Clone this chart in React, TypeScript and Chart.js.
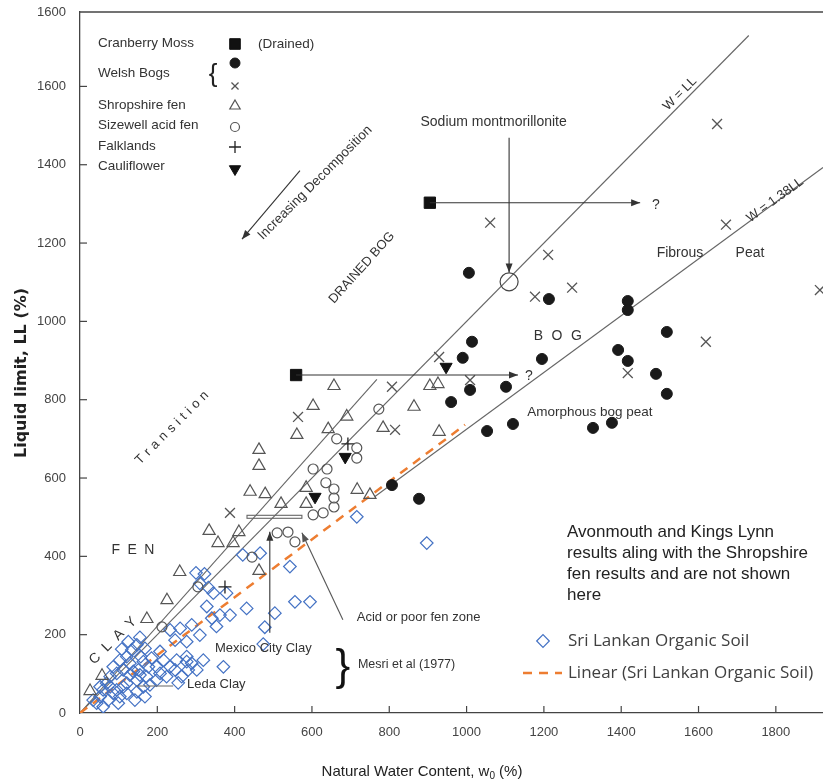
import React, { useEffect, useRef } from 'react';
import { Chart, registerables } from 'chart.js';
import { drawPoint } from 'chart.js/helpers';

Chart.register(...registerables);

// ---------- axes ----------
const X_MAX = 1922;
const Y_MAX = 1790;
const X_TICKS = [0, 200, 400, 600, 800, 1000, 1200, 1400, 1600, 1800];
const Y_TICKS = [0, 200, 400, 600, 800, 1000, 1200, 1400, 1600];
const Y_TOP_LABEL = '1600';

// ---------- data: [natural water content w0 %, liquid limit LL %] ----------
const cranberryMoss = [[905, 1303], [559, 863]];
const welshBogsCircle = [
  [1006, 1124], [1213, 1057], [1014, 948], [990, 907], [1195, 904], [1009, 825], [1102, 833],
  [960, 794], [1053, 720], [1120, 738], [1327, 728], [1376, 741], [807, 582], [877, 547],
  [1417, 1052], [1417, 1029], [1518, 973], [1392, 927], [1417, 899], [1490, 866], [1518, 815],
];
const welshBogsCross = [
  [1061, 1252], [1211, 1170], [1273, 1086], [1177, 1063], [929, 909], [1009, 850], [807, 833],
  [815, 723], [1671, 1247], [1619, 948], [1417, 868], [1914, 1080], [1648, 1504], [564, 756], [388, 511],
];
const shropshireFen = [
  [657, 835], [905, 835], [926, 840], [603, 784], [690, 757], [864, 782], [561, 710], [642, 725],
  [784, 728], [929, 718], [463, 672], [463, 631], [440, 565], [479, 559], [520, 534], [585, 575],
  [585, 534], [717, 570], [750, 557], [334, 465], [357, 434], [396, 434], [411, 462], [258, 360],
  [463, 363], [225, 288], [173, 240], [26, 56], [57, 95],
];
const sizewellAcidFen = [
  [773, 776], [664, 700], [716, 677], [716, 651], [603, 623], [639, 623], [636, 588], [657, 572],
  [657, 549], [657, 526], [603, 506], [629, 511], [510, 460], [538, 462], [556, 437], [445, 398],
  [305, 322], [212, 220],
];
const falklands = [[693, 687], [375, 322]];
const cauliflower = [[947, 884], [686, 654], [608, 552]];
const sodiumMontmorillonite = [[1110, 1101]];
const sriLankanOrganicSoil = [
  [125, 182], [155, 193], [147, 174], [108, 163], [134, 161], [168, 165], [157, 144], [121, 144],
  [103, 135], [86, 118], [129, 127], [164, 131], [185, 140], [198, 118], [207, 101], [233, 118],
  [250, 135], [276, 144], [289, 127], [246, 110], [224, 93], [263, 93], [280, 110], [302, 110],
  [319, 135], [289, 225], [259, 216], [233, 212], [246, 186], [276, 182], [310, 199], [207, 157],
  [216, 135], [95, 101], [78, 93], [69, 76], [60, 59], [52, 42], [95, 59], [121, 76], [147, 84],
  [172, 93], [121, 50], [147, 54], [73, 33], [103, 42], [164, 67], [181, 72], [198, 84], [151, 110],
  [177, 118], [52, 67], [99, 25], [142, 33], [168, 42], [362, 250], [353, 221], [341, 242],
  [328, 272], [388, 250], [371, 118], [78, 67], [86, 50], [112, 67], [129, 97], [112, 110],
  [138, 106], [155, 97], [43, 25], [34, 33], [60, 16],
  [466, 408], [421, 404], [543, 374], [300, 358], [322, 355], [332, 320], [310, 331], [345, 306],
  [379, 306], [556, 284], [595, 284], [431, 267], [504, 255], [478, 219], [474, 176], [276, 131],
  [254, 77], [716, 501], [897, 434],
];
// reference lines and trend line (end points)
const lineWequalsLL = [[0, 0], [1730, 1730]];
const lineTransition = [[0, 0], [768, 852]];
const lineW138LL = [[763, 553], [1922, 1393]];
const trendSriLankan = [[0, 0], [996, 736]];

const toXY = (arr: number[][]) => arr.map(([x, y]) => ({ x, y }));

const SANS = "'Liberation Sans', Arial, sans-serif";
const LEG = "'Open Sans', 'Liberation Sans', sans-serif";
const INK = '#333';

function txt(ctx: any, str: string, x: number, y: number, font: string, o: any = {}) {
  ctx.save();
  ctx.translate(x, y);
  if (o.rot) ctx.rotate((o.rot * Math.PI) / 180);
  ctx.font = font;
  ctx.fillStyle = o.color || INK;
  ctx.textBaseline = 'middle';
  const sp = o.spacing || 0;
  if (!sp) {
    ctx.textAlign = o.align || 'center';
    ctx.fillText(str, 0, 0);
  } else {
    const chars = Array.from(str);
    const ws = chars.map((c) => ctx.measureText(c).width);
    const total = ws.reduce((a, b) => a + b, 0) + sp * (chars.length - 1);
    let cx = o.align === 'left' ? 0 : -total / 2;
    ctx.textAlign = 'left';
    chars.forEach((c, i) => {
      ctx.fillText(c, cx, 0);
      cx += ws[i] + sp;
    });
  }
  ctx.restore();
}

function arrow(ctx: any, x1: number, y1: number, x2: number, y2: number, head = 9, half = 3.5) {
  ctx.beginPath();
  ctx.moveTo(x1, y1);
  ctx.lineTo(x2, y2);
  ctx.stroke();
  const a = Math.atan2(y2 - y1, x2 - x1);
  ctx.beginPath();
  ctx.moveTo(x2, y2);
  ctx.lineTo(x2 - head * Math.cos(a) + half * Math.sin(a), y2 - head * Math.sin(a) - half * Math.cos(a));
  ctx.lineTo(x2 - head * Math.cos(a) - half * Math.sin(a), y2 - head * Math.sin(a) + half * Math.cos(a));
  ctx.closePath();
  ctx.fill();
}

function sym(ctx: any, ds: any, x: number, y: number) {
  ctx.save();
  ctx.fillStyle = ds.pointBackgroundColor;
  ctx.strokeStyle = ds.pointBorderColor;
  ctx.lineWidth = ds.pointBorderWidth;
  drawPoint(ctx, { pointStyle: ds.pointStyle, rotation: ds.pointRotation || 0, radius: ds.pointRadius, borderWidth: ds.pointBorderWidth }, x, y);
  ctx.restore();
}

const annotations = {
  id: 'annotations',
  afterDraw(chart: any) {
    const { ctx, chartArea: ca, scales } = chart;
    const X = (v: number) => scales.x.getPixelForValue(v);
    const Y = (v: number) => scales.y.getPixelForValue(v);
    const ds = chart.data.datasets;
    ctx.save();

    // frame: top border + inner tick marks
    ctx.strokeStyle = '#444';
    ctx.lineWidth = 1.5;
    ctx.beginPath();
    ctx.moveTo(ca.left, ca.top);
    ctx.lineTo(ca.right, ca.top);
    ctx.stroke();
    ctx.lineWidth = 1.2;
    scales.x.ticks.forEach((t: any) => {
      if (t.value <= 0) return;
      const p = X(t.value);
      ctx.beginPath();
      ctx.moveTo(p, ca.bottom);
      ctx.lineTo(p, ca.bottom - 7);
      ctx.stroke();
    });
    scales.y.ticks.forEach((t: any) => {
      if (t.value <= 0 || t.value > 1600) return;
      const p = Y(t.value);
      ctx.beginPath();
      ctx.moveTo(ca.left, p);
      ctx.lineTo(ca.left + 7, p);
      ctx.stroke();
    });

    // axis titles
    txt(ctx, 'Liquid limit, LL (%)', 22, 373, "bold 16px 'DejaVu Sans', sans-serif", { rot: -90, color: '#222' });
    {
      const f = `15px ${SANS}`;
      const a = 'Natural Water Content, w';
      const b = ' (%)';
      ctx.font = `10px ${SANS}`;
      const wSub = ctx.measureText('0').width;
      ctx.font = f;
      const wa = ctx.measureText(a).width;
      const total = wa + wSub + ctx.measureText(b).width;
      let sx = 422 - total / 2;
      txt(ctx, a, sx, 772, f, { align: 'left', color: '#222' });
      sx += wa;
      txt(ctx, '0', sx, 776, `10px ${SANS}`, { align: 'left', color: '#222' });
      sx += wSub;
      txt(ctx, b, sx, 772, f, { align: 'left', color: '#222' });
    }

    // arrows and guide marks
    ctx.strokeStyle = '#333';
    ctx.fillStyle = '#333';
    ctx.lineWidth = 1.1;
    arrow(ctx, X(905), Y(1303), X(1449), Y(1303));
    arrow(ctx, X(559), Y(863), X(1133), Y(863));
    arrow(ctx, X(1110), Y(1469), X(1110), Y(1125));
    arrow(ctx, X(569), Y(1385), X(419), Y(1210));
    arrow(ctx, X(491), Y(205), X(491), Y(463));
    ctx.strokeStyle = '#555';
    ctx.fillStyle = '#555';
    arrow(ctx, X(680), Y(238), X(574), Y(460));
    ctx.strokeStyle = '#666';
    ctx.strokeRect(X(432), Y(501) - 1.5, X(574) - X(432), 3);
    ctx.beginPath();
    ctx.moveTo(X(147), Y(69));
    ctx.lineTo(X(241), Y(69));
    ctx.stroke();

    // region labels
    const f14 = `14px ${SANS}`;
    const f13 = `13px ${SANS}`;
    txt(ctx, 'Sodium montmorillonite', X(1070), Y(1510), f14);
    txt(ctx, '?', X(1490), Y(1298), f14);
    txt(ctx, '?', X(1161), Y(861), f14);
    txt(ctx, 'Fibrous', X(1552), Y(1175), f14);
    txt(ctx, 'Peat', X(1733), Y(1175), f14);
    txt(ctx, 'BOG', X(1236), Y(963), f14, { spacing: 8.5 });
    txt(ctx, 'Amorphous bog peat', X(1319), Y(769), `13.5px ${SANS}`);
    txt(ctx, 'W = LL', X(1552), Y(1581), f13, { rot: -45 });
    txt(ctx, 'W = 1.38LL', X(1798), Y(1310), f13, { rot: -36 });
    txt(ctx, 'DRAINED BOG', X(729), Y(1137), f13, { rot: -48 });
    txt(ctx, 'Increasing Decomposition', X(608), Y(1354), `13.5px ${SANS}`, { rot: -45 });
    txt(ctx, 'Transition', X(238), Y(728), f13, { rot: -45, spacing: 4.5 });
    txt(ctx, 'FEN', X(137), Y(416), f14, { spacing: 7.5 });
    txt(ctx, 'CLAY', X(85), Y(184), f14, { rot: -45, spacing: 8 });
    txt(ctx, 'Acid or poor fen zone', X(716), Y(243), f13, { align: 'left' });
    txt(ctx, 'Mexico City Clay', X(349), Y(166), f13, { align: 'left' });
    txt(ctx, 'Leda Clay', X(277), Y(74), f13, { align: 'left' });
    txt(ctx, '}', X(680), Y(115), `44px ${SANS}`, { color: '#111' });
    txt(ctx, 'Mesri et al (1977)', X(719), Y(125), `12.5px ${SANS}`, { align: 'left' });

    const avon = ['Avonmouth and Kings Lynn', 'results aling with the Shropshire', 'fen results and are not shown', 'here'];
    avon.forEach((s, i) => txt(ctx, s, X(1260), Y(462) + i * 21, `17px ${SANS}`, { align: 'left', color: '#222' }));

    // legend (top-left)
    const L = ca.left;
    const T = ca.top;
    const lf = `13.5px ${SANS}`;
    const rows = [
      ['Cranberry Moss', 31], ['Welsh Bogs', 61], ['Shropshire fen', 93], ['Sizewell acid fen', 113], ['Falklands', 134], ['Cauliflower', 154],
    ];
    rows.forEach(([s, dy]) => txt(ctx, s as string, L + 18, T + (dy as number), lf, { align: 'left' }));
    txt(ctx, '(Drained)', L + 178, T + 32, lf, { align: 'left' });
    txt(ctx, '{', L + 133, T + 63, `26px ${SANS}`, { color: '#222' });
    sym(ctx, { ...ds[0], pointRadius: 7.5 }, L + 155, T + 32);
    sym(ctx, { ...ds[1], pointRadius: 5 }, L + 155, T + 51);
    sym(ctx, { ...ds[2], pointRadius: 5 }, L + 155, T + 74);
    sym(ctx, { ...ds[3], pointRadius: 6 }, L + 155, T + 94);
    sym(ctx, { ...ds[4], pointRadius: 4.5 }, L + 155, T + 115);
    sym(ctx, { ...ds[5], pointRadius: 6 }, L + 155, T + 135);
    sym(ctx, { ...ds[6], pointRadius: 6.5 }, L + 155, T + 157);

    // legend (bottom-right)
    const sl = ds.find((d: any) => d.label === 'Sri Lankan Organic Soil');
    const tr = ds.find((d: any) => d.label === 'Linear (Sri Lankan Organic Soil)');
    sym(ctx, sl, 543, 641);
    txt(ctx, 'Sri Lankan Organic Soil', 568, 641, `17px ${LEG}`, { align: 'left', color: '#404040' });
    ctx.strokeStyle = tr.borderColor;
    ctx.lineWidth = tr.borderWidth;
    ctx.setLineDash(tr.borderDash);
    ctx.beginPath();
    ctx.moveTo(523, 673);
    ctx.lineTo(562, 673);
    ctx.stroke();
    ctx.setLineDash([]);
    txt(ctx, 'Linear (Sri Lankan Organic Soil)', 568, 673, `17px ${LEG}`, { align: 'left', color: '#404040' });

    ctx.restore();
  },
};

const CLEAR = 'rgba(0,0,0,0)';

export default function App() {
  const ref = useRef<HTMLCanvasElement | null>(null);
  useEffect(() => {
    if (!ref.current) return;
    const markers = (label: string, data: number[][], style: any) => ({
      label,
      data: toXY(data),
      showLine: false,
      order: 1,
      ...style,
    });
    const line = (label: string, data: number[][], style: any) => ({
      label,
      data: toXY(data),
      showLine: true,
      pointRadius: 0,
      pointHoverRadius: 0,
      fill: false,
      order: 10,
      ...style,
    });
    const chart = new Chart(ref.current, {
      type: 'scatter',
      data: {
        datasets: [
          markers('Cranberry Moss (Drained)', cranberryMoss, { pointStyle: 'rect', pointRadius: 8, pointBackgroundColor: '#111', pointBorderColor: '#111', pointBorderWidth: 1 }),
          markers('Welsh Bogs (bog)', welshBogsCircle, { pointStyle: 'circle', pointRadius: 5.5, pointBackgroundColor: '#1a1a1a', pointBorderColor: '#1a1a1a', pointBorderWidth: 1 }),
          markers('Welsh Bogs (x)', welshBogsCross, { pointStyle: 'crossRot', pointRadius: 7, pointBackgroundColor: CLEAR, pointBorderColor: '#555', pointBorderWidth: 1.3 }),
          markers('Shropshire fen', shropshireFen, { pointStyle: 'triangle', pointRadius: 7, pointBackgroundColor: CLEAR, pointBorderColor: '#555', pointBorderWidth: 1.2 }),
          markers('Sizewell acid fen', sizewellAcidFen, { pointStyle: 'circle', pointRadius: 5, pointBackgroundColor: CLEAR, pointBorderColor: '#555', pointBorderWidth: 1.2 }),
          markers('Falklands', falklands, { pointStyle: 'cross', pointRadius: 6.5, pointBackgroundColor: CLEAR, pointBorderColor: '#222', pointBorderWidth: 1.3 }),
          markers('Cauliflower', cauliflower, { pointStyle: 'triangle', pointRotation: 180, pointRadius: 7, pointBackgroundColor: '#111', pointBorderColor: '#111', pointBorderWidth: 1 }),
          markers('Sodium montmorillonite', sodiumMontmorillonite, { pointStyle: 'circle', pointRadius: 9, pointBackgroundColor: CLEAR, pointBorderColor: '#444', pointBorderWidth: 1.2 }),
          markers('Sri Lankan Organic Soil', sriLankanOrganicSoil, { pointStyle: 'rectRot', pointRadius: 6.3, pointBackgroundColor: CLEAR, pointBorderColor: '#4472C4', pointBorderWidth: 1.2, order: 2 }),
          line('W = LL', lineWequalsLL, { borderColor: '#666', borderWidth: 1.1 }),
          line('Transition line', lineTransition, { borderColor: '#666', borderWidth: 1.1 }),
          line('W = 1.38LL', lineW138LL, { borderColor: '#666', borderWidth: 1.1 }),
          line('Linear (Sri Lankan Organic Soil)', trendSriLankan, { borderColor: '#ED7D31', borderWidth: 2.5, borderDash: [9, 7], order: 3 }),
        ],
      },
      options: {
        responsive: false,
        animation: false,
        events: [],
        layout: { autoPadding: false, padding: { top: 12, left: 0, right: 0, bottom: 0 } },
        plugins: { legend: { display: false }, tooltip: { enabled: false } },
        scales: {
          x: {
            type: 'linear',
            min: 0,
            max: X_MAX,
            grid: { display: false },
            border: { display: true, color: '#444', width: 1.3 },
            afterBuildTicks: (s: any) => { s.ticks = X_TICKS.map((v) => ({ value: v })); },
            afterFit: (s: any) => { s.height = 71; s.paddingLeft = 0; s.paddingRight = 0; },
            ticks: {
              autoSkip: false,
              maxRotation: 0,
              padding: 4,
              color: '#444',
              font: { family: "'Liberation Sans Narrow', 'Liberation Sans', Arial", size: 13 },
              callback: (v: any) => String(v),
            },
          },
          y: {
            type: 'linear',
            min: 0,
            max: Y_MAX,
            grid: { display: false },
            border: { display: true, color: '#444', width: 1.3 },
            afterBuildTicks: (s: any) => { s.ticks = [...Y_TICKS, Y_MAX].map((v) => ({ value: v })); },
            afterFit: (s: any) => { s.width = 80; s.paddingTop = 0; s.paddingBottom = 0; },
            ticks: {
              autoSkip: false,
              padding: 6,
              color: '#444',
              font: { family: SANS, size: 13 },
              callback: (v: any) => (v === Y_MAX ? Y_TOP_LABEL : String(v)),
            },
          },
        },
      } as any,
      plugins: [annotations],
    });
    return () => chart.destroy();
  }, []);
  return (
    <div style={{ position: 'fixed', left: 0, top: 0, width: 823, height: 784, background: '#fff' }}>
      <canvas ref={ref} width={823} height={784} style={{ display: 'block' }} />
    </div>
  );
}
